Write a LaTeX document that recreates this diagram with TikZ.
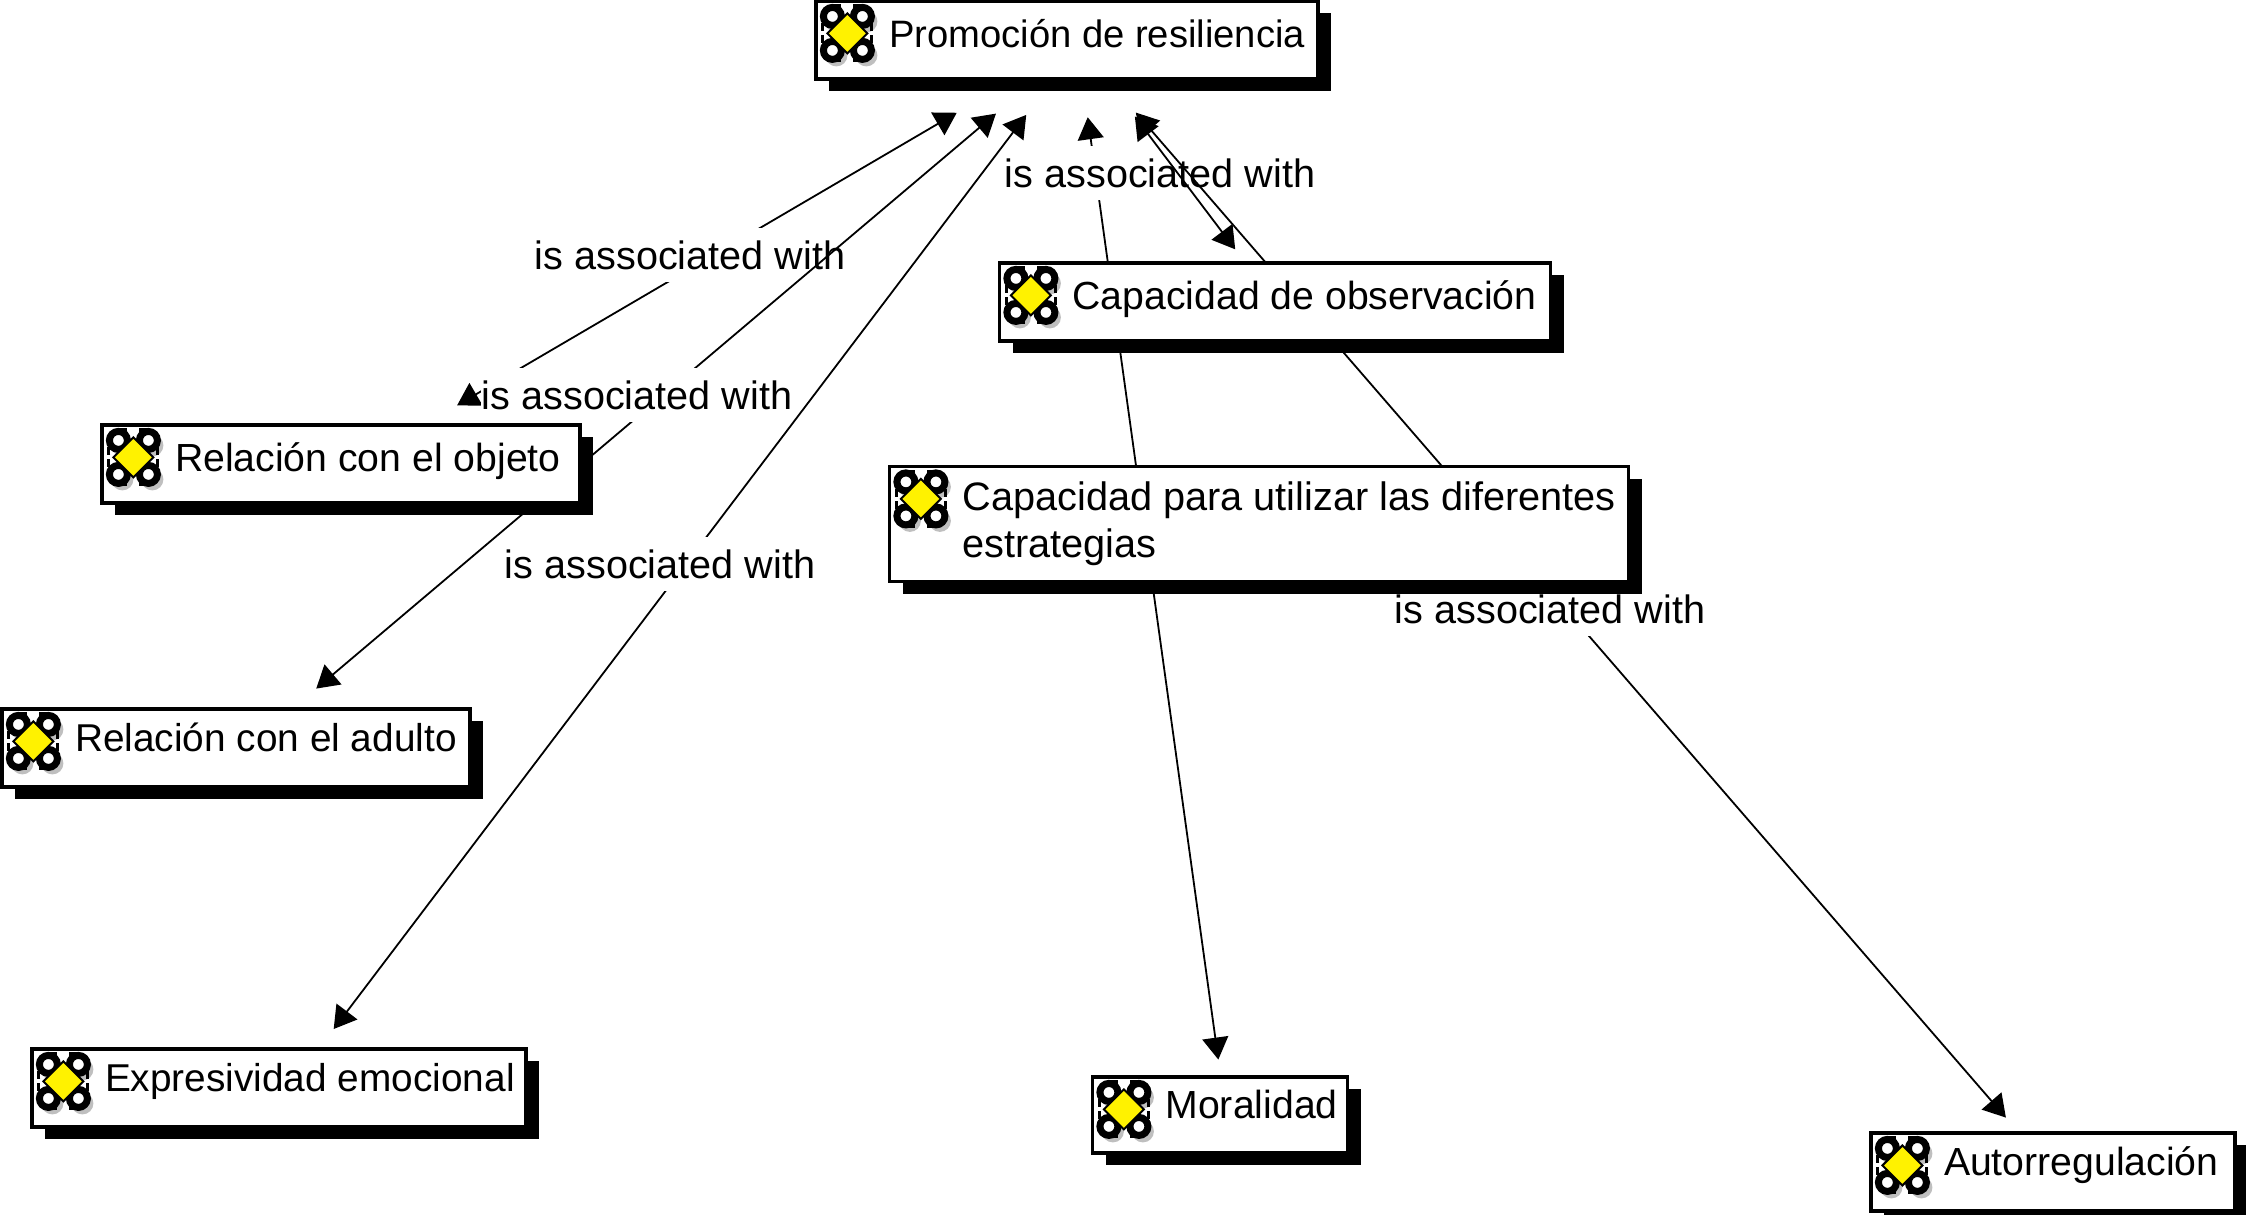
\documentclass[tikz,border=0pt]{standalone}
\usepackage{fontspec}
\setmainfont{Liberation Sans}
\usepackage{tikz}
\usetikzlibrary{arrows.meta, shadows, backgrounds}
\newcommand{\iconline}[1]{\mbox{\hspace*{31.5pt}#1}}

\tikzset{
    staricon/.pic={
        % Gray copy, then black lobes, then the yellow middle
        \foreach \sx in {-1,1} {
            \foreach \sy in {-1,1} {
                \fill[gray!50] (4+\sx*15,5+\sy*17) circle (11);
                \draw[black, line width=3.5, fill=white] (\sx*15,\sy*17) circle (9);
                \draw[black, line width=4] (\sx*10,\sy*25) -- (\sx*10,\sy*29);
                \draw[black, line width=4] (\sx*23,\sy*6) -- (\sx*26,\sy*6);
            }
        }
        \fill[yellow, draw=black, line width=1] (-20,0) -- (0,-20) -- (20,0) -- (0,20) -- cycle;
    }
}

\begin{document}
\begin{tikzpicture}[
    x=0.5pt, y=-0.5pt,
    concept/.style={rectangle, draw, fill=white, line width=1.6pt, inner xsep=5pt, inner ysep=0pt, text width=#1, minimum height=39pt, align=flush left, text depth=7pt, font=\fontsize{19.6}{23.6}\selectfont, drop shadow={shadow xshift=6.5pt, shadow yshift=-6pt, fill=black, opacity=1}},
    link/.style={<->, >={Triangle[length=11pt, width=13pt]}, line width=0.9pt},
    assoc/.style={fill=white, inner xsep=0.5pt, inner ysep=0pt, minimum height=27pt, font=\fontsize{19.8}{24}\selectfont}
]
\useasboundingbox (0,0) rectangle (2246,1214);

% Concepts
\node[concept=241pt, font=\fontsize{19.1}{23.6}\selectfont] (promo) at (1067,40) {\iconline{Promoción de resiliencia}};
\node[concept=229pt] (objeto) at (341,464) {\iconline{Relación con el objeto}};
\node[concept=265.5pt] (obs) at (1275,302) {\iconline{Capacidad de observación}};
\node[concept=359.5pt, minimum height=57.5pt, text height=22pt, text depth=35.5pt, font=\fontsize{19.85}{23.6}\selectfont] (para) at (1259,524) {\iconline{Capacidad para utilizar las diferentes}\\\iconline{estrategias}};
\node[concept=224pt, text depth=11pt, font=\fontsize{19.4}{23.6}\selectfont] (adulto) at (236,748) {\iconline{Relación con el adulto}};
\node[concept=237pt, text depth=11pt, font=\fontsize{19.4}{23.6}\selectfont] (expres) at (279,1088) {\iconline{Expresividad emocional}};
\node[concept=117.5pt, text depth=11pt, minimum height=38pt] (moral) at (1220,1115) {\iconline{Moralidad}};
\node[concept=172pt, text depth=11pt] (auto) at (2053,1172) {\iconline{Autorregulación}};

\foreach \n in {promo,objeto,obs,para,adulto,expres,moral,auto} {
    \pic at ([shift={(33,34)}]\n.north west) {staricon};
}

% Arrow Connections
\begin{pgfonlayer}{background}
\draw[link, shorten <=72pt, shorten >=58pt] ([xshift=7pt]promo.center) -- ([xshift=8pt]objeto.center);
\node[assoc] (label1) at (690,255) {is associated with};
\draw[link, shorten <=57pt, shorten >=46pt] ([xshift=8pt]promo.center) -- ([xshift=5pt]adulto.center);
\node[assoc] (label2) at (637,395) {is associated with};
\draw[link, shorten <=47pt, shorten >=37pt] ([xshift=8pt]promo.center) -- ([xshift=5pt]expres.center);
\node[assoc] (label3) at (660,564) {is associated with};
\draw[link, shorten <=39pt, shorten >=28pt] ([xshift=5pt]promo.center) -- ([xshift=3pt]moral.center);
\node[assoc] (label4) at (1160,173) {is associated with};
\draw[link, shorten <=48pt, shorten >=33pt] ([xshift=5pt]promo.center) -- (obs.center);
\draw[link, shorten <=48pt, shorten >=36pt] ([xshift=3pt]promo.center) -- (auto.center);
\node[assoc] (label5) at (1550,609) {is associated with};
\end{pgfonlayer}

\end{tikzpicture}
\end{document}
